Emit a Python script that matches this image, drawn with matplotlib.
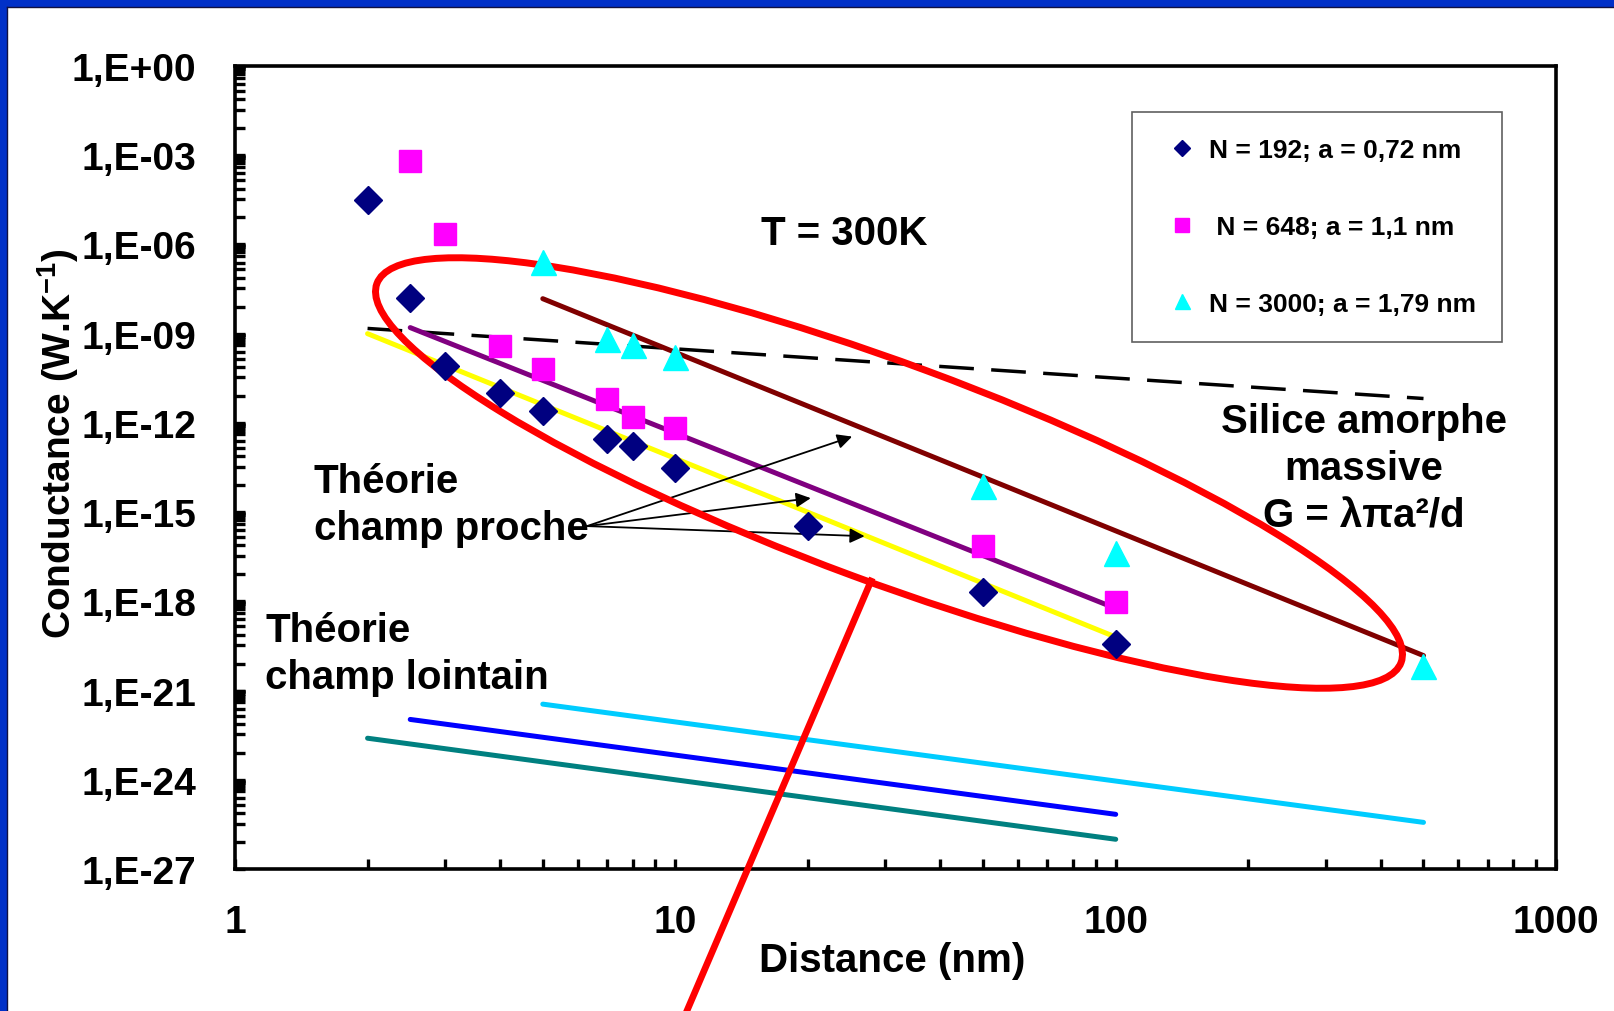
import numpy as np
import matplotlib
matplotlib.use('Agg')
import matplotlib.pyplot as plt
from matplotlib.patches import Ellipse, Rectangle
from matplotlib.lines import Line2D
from matplotlib.ticker import FixedLocator, FuncFormatter, NullFormatter

plt.rcParams['font.family'] = ['Liberation Sans', 'DejaVu Sans']
plt.rcParams['font.weight'] = 'bold'
plt.rcParams['mathtext.fontset'] = 'custom'
plt.rcParams['mathtext.rm'] = 'Liberation Sans:bold'
plt.rcParams['mathtext.it'] = 'Liberation Sans:bold'
plt.rcParams['mathtext.default'] = 'rm'

d_192 = [2, 2.5, 3, 4, 5, 7, 8, 10, 20, 50, 100]
g_192 = [3.2e-5, 1.6e-8, 7.9e-11, 1.0e-11, 2.6e-12, 2.8e-13, 1.7e-13, 3.0e-14, 3.4e-16, 2.1e-18, 3.6e-20]
d_648 = [2.5, 3, 4, 5, 7, 8, 10, 50, 100]
g_648 = [6.6e-4, 2.3e-6, 3.9e-10, 6.7e-11, 6.2e-12, 1.6e-12, 6.6e-13, 7.5e-17, 9.4e-19]
d_3000 = [5, 7, 8, 10, 50, 100, 500]
g_3000 = [2.5e-7, 6.8e-10, 4.2e-10, 1.6e-10, 7.6e-15, 4.3e-17, 6.7e-21]

# theorie champ proche
d_proche_192 = [2, 100]
g_proche_192 = [1.0e-9, 6.3e-20]
d_proche_648 = [2.5, 100]
g_proche_648 = [1.6e-9, 5.8e-19]
d_proche_3000 = [5, 500]
g_proche_3000 = [1.5e-8, 1.5e-20]

# theorie champ lointain
d_loin_192 = [2, 100]
g_loin_192 = [2.5e-23, 1.0e-26]
d_loin_648 = [2.5, 100]
g_loin_648 = [1.07e-22, 6.9e-26]
d_loin_3000 = [5, 500]
g_loin_3000 = [3.5e-22, 3.7e-26]

# silice massive
d_silice = [2, 500]
g_silice = [1.5e-9, 6.6e-12]

fig = plt.figure(figsize=(16.14, 10.12), dpi=100)
fig.patch.set_facecolor('white')
# cadre bleu de la diapo
fig.patches.append(Rectangle((0, 1 - 8 / 1012), 1, 8 / 1012, transform=fig.transFigure,
                             facecolor='#0030C8', edgecolor='none', zorder=0))
fig.patches.append(Rectangle((0, 0), 7 / 1614, 1, transform=fig.transFigure,
                             facecolor='#0030C8', edgecolor='none', zorder=0))
fig.lines.append(Line2D([7 / 1614, 1], [1 - 8 / 1012, 1 - 8 / 1012], transform=fig.transFigure,
                        color='#101040', lw=1))
fig.lines.append(Line2D([7 / 1614, 7 / 1614], [0, 1 - 8 / 1012], transform=fig.transFigure,
                        color='#101040', lw=1))

ax = fig.add_axes([0.1456, 0.1403, 0.8185, 0.7935])
ax.set_xscale('log')
ax.set_yscale('log')

lw = 3.6
ax.plot(d_silice, g_silice, color='black', lw=2.5, dashes=(10, 5), zorder=2)
ax.plot(d_proche_192, g_proche_192, color='#FFFF00', lw=lw, solid_capstyle='round', zorder=2)
ax.plot(d_proche_648, g_proche_648, color='#800080', lw=lw, solid_capstyle='round', zorder=2)
ax.plot(d_proche_3000, g_proche_3000, color='#800000', lw=lw, solid_capstyle='round', zorder=2)
ax.plot(d_loin_192, g_loin_192, color='#008080', lw=lw, solid_capstyle='round', zorder=2)
ax.plot(d_loin_648, g_loin_648, color='#0000FF', lw=lw, solid_capstyle='round', zorder=2)
ax.plot(d_loin_3000, g_loin_3000, color='#00CCFF', lw=lw, solid_capstyle='round', zorder=2)

p1, = ax.plot(d_192, g_192, 'D', color='#000080', ms=14, mec='#000080', ls='none', zorder=4,
              label='N = 192; a = 0,72 nm')
p2, = ax.plot(d_648, g_648, 's', color='#FF00FF', ms=16, mec='#FF00FF', ls='none', zorder=4,
              label=' N = 648; a = 1,1 nm')
p3, = ax.plot(d_3000, g_3000, '^', color='#00FFFF', ms=18, mec='#00FFFF', ls='none', zorder=4,
              label='N = 3000; a = 1,79 nm')

ax.set_xlim(1, 1000)
ax.set_ylim(1e-27, 1)

# graduations
ax.yaxis.set_major_locator(FixedLocator([10.0 ** (-3 * k) for k in range(10)]))
ax.yaxis.set_major_formatter(FuncFormatter(lambda v, p: '1,E%+03d' % round(np.log10(v))))
offs = [0.03, 0.06, 0.10, 0.17, 0.27, 0.39, 0.61, 0.84, 1.12, 1.47, 2.09]
ymin = [10.0 ** (-3 * k - o) for k in range(9) for o in offs]
ax.yaxis.set_minor_locator(FixedLocator(ymin))
ax.yaxis.set_minor_formatter(NullFormatter())
ax.xaxis.set_major_locator(FixedLocator([1, 10, 100, 1000]))
ax.xaxis.set_major_formatter(FuncFormatter(lambda v, p: '%d' % v))
ax.xaxis.set_minor_locator(FixedLocator([m * 10 ** e for e in range(3) for m in range(2, 10)]))
ax.xaxis.set_minor_formatter(NullFormatter())

ax.tick_params(which='both', direction='in', length=7, width=2.4, labelsize=28)
ax.tick_params(axis='x', which='both', pad=25)
ax.tick_params(axis='y', which='both', pad=28)
for t in ax.get_xticklabels() + ax.get_yticklabels():
    t.set_fontweight('bold')
for s in ax.spines.values():
    s.set_linewidth(2.6)

fig.text(0.553, 0.050, 'Distance (nm)', ha='center', va='center', fontsize=29, fontweight='bold')
fig.text(0.036, 0.562, 'Conductance (W.K$^{-1}$)', ha='center', va='center', rotation=90,
         fontsize=28, fontweight='bold')

leg = ax.legend(handles=[p1, p2, p3], loc='upper left', bbox_to_anchor=(0.679, 0.943),
                fontsize=19, markerscale=0.6, labelspacing=2.0, borderpad=1.0,
                handlelength=1.8, handletextpad=0.1, fancybox=False, framealpha=1,
                edgecolor='#606060', borderaxespad=0)
leg.get_frame().set_linewidth(1.2)
for t in leg.get_texts():
    t.set_fontweight('bold')

ax.text(24.2, 10 ** -5.6, 'T = 300K', ha='center', va='center', fontsize=29, fontweight='bold')
ax.text(1.51, 10 ** -14.75, 'Théorie\nchamp proche', ha='left', va='center', fontsize=29,
        fontweight='bold', linespacing=1.3)
ax.text(1.17, 10 ** -19.74, 'Théorie\nchamp lointain', ha='left', va='center', fontsize=29,
        fontweight='bold', linespacing=1.3)
ax.text(366, 10 ** -13.53, 'Silice amorphe\nmassive\nG = λπa²/d', ha='center', va='center',
        fontsize=29, fontweight='bold', linespacing=1.3)

# fleches vers les courbes champ proche
start = (6.3, 10 ** -15.47)
for tgt in [(25.2, 10 ** -12.46), (20.3, 10 ** -14.53), (26.9, 10 ** -15.81)]:
    ax.annotate('', xy=tgt, xytext=start,
                arrowprops=dict(arrowstyle='-|>', color='black', lw=1.3, mutation_scale=22,
                                shrinkA=0, shrinkB=0))

# ellipse rouge et trait de renvoi (en pouces)
ell = Ellipse((8.89, 10.12 - 4.74), 10.92, 2.18, angle=-20.3, transform=fig.dpi_scale_trans,
              facecolor='none', edgecolor='#FF0000', lw=5, clip_on=False, zorder=3)
ax.add_artist(ell)
ax.add_artist(Line2D([8.71, 6.74], [10.12 - 5.82, -0.3], transform=fig.dpi_scale_trans,
                     color='#FF0000', lw=4.8, clip_on=False, zorder=3))

fig.savefig('out.png', dpi=100)
